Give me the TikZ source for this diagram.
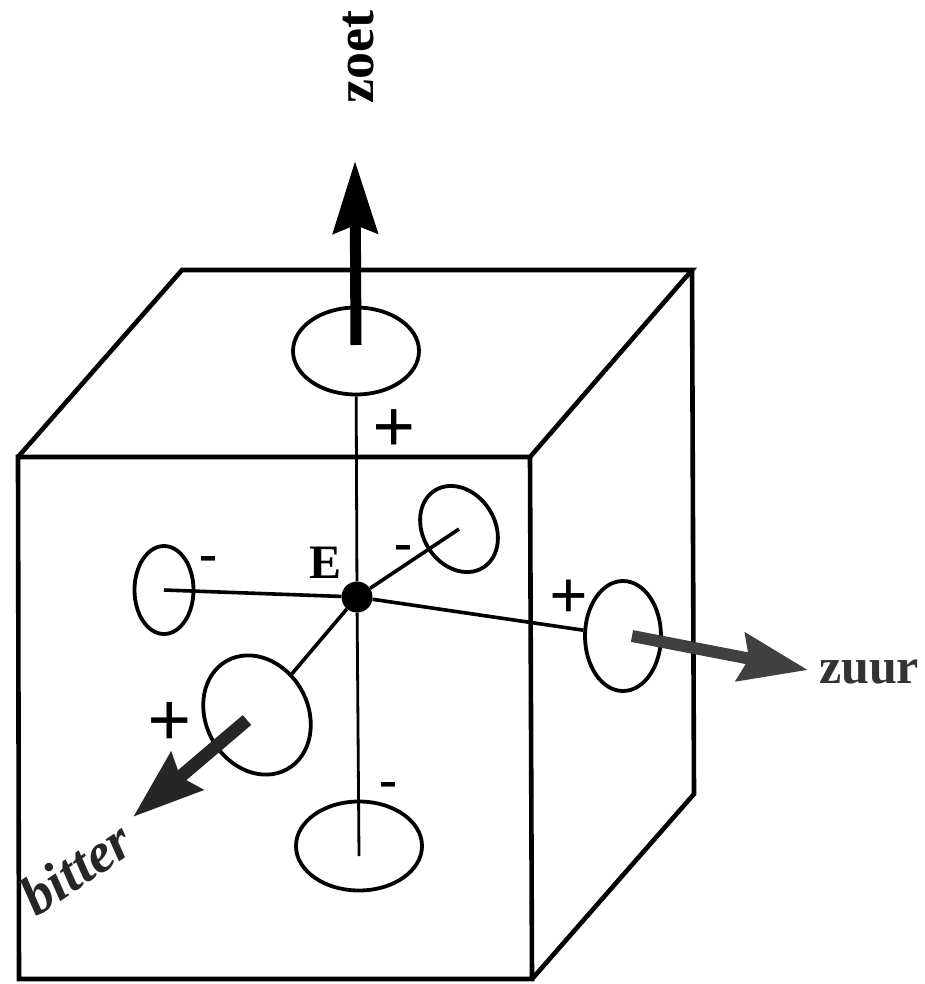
\documentclass[tikz,border=0pt]{standalone}
\usepackage{fontspec}
\setmainfont{Liberation Serif}
\usetikzlibrary{arrows.meta,shapes.geometric}
\begin{document}
\begin{tikzpicture}[x=1bp,y=-1bp,
  edge/.style={line width=4.6bp, line join=miter},
  axisline/.style={line width=3.6bp},
  vline/.style={line width=2.8bp},
  port/.style={draw, ellipse, line width=3.8bp, inner sep=0pt},
  sign/.style={inner sep=0pt, font=\fontsize{76bp}{76bp}\selectfont\bfseries},
  neg/.style={inner sep=0pt, font=\fontsize{54bp}{54bp}\selectfont\bfseries},
  lbl/.style={inner sep=0pt, font=\fontsize{50bp}{50bp}\selectfont\bfseries},
  zoetarrow/.style={line width=11bp, -{Stealth[length=72bp,width=44bp,inset=8bp]}},
  bitarrow/.style={line width=13bp, black!85, -{Stealth[length=70bp,width=48bp,inset=8bp]}},
  zuurarrow/.style={line width=12bp, black!75, -{Stealth[length=68bp,width=48bp,inset=8bp]}}
]
\useasboundingbox (0,0) rectangle (925,984);
% cube corners
\coordinate (FTL) at (18,457);
\coordinate (FTR) at (530,457);
\coordinate (FBR) at (532,979);
\coordinate (FBL) at (19,979);
\coordinate (BTL) at (182,270);
\coordinate (BTR) at (692,270);
\coordinate (BBR) at (694,794);
\draw[edge] (FTL) -- (FTR) -- (FBR) -- (FBL) -- cycle;
\draw[edge] (FTL) -- (BTL) -- (BTR) -- (FTR);
\draw[edge] (BTR) -- (BBR) -- (FBR);
% ports
\node[port, minimum width=126bp, minimum height=87bp] (topell) at (356,351) {};
\node[port, minimum width=59bp, minimum height=88bp] (leftell) at (164,590) {};
\node[port, minimum width=72bp, minimum height=91bp, rotate=32] (urell) at (459,529) {};
\node[port, minimum width=76bp, minimum height=110bp] (zuurell) at (623,636) {};
\node[port, minimum width=102bp, minimum height=124bp, rotate=29] (bitell) at (257,715) {};
\node[port, minimum width=126bp, minimum height=89bp] (botell) at (359,846) {};
% centre
\node[circle, fill, inner sep=0pt, minimum size=31bp] (E) at (357,597) {};
\node[lbl, font=\fontsize{48bp}{48bp}\selectfont\bfseries] (elabel) at (326,563) {E};
% axes
\draw[axisline] (E) -- (leftell.center);
\draw[axisline] (E) -- (zuurell);
\draw[axisline] (E) -- (urell.center);
\draw[axisline] (E) -- (bitell);
\draw[vline] (E) -- (topell);
\draw[vline] (E) -- ([yshift=-10bp]botell.center);
% arrows
\coordinate (zoettip) at (355,161);
\coordinate (bittip) at (133,817);
\coordinate (zuurtip) at (808,670);
\draw[zoetarrow] ([yshift=6bp]topell.center) -- (zoettip);
\draw[bitarrow] ([shift={(-10bp,-5bp)}]bitell.center) -- (bittip);
\draw[zuurarrow] ([xshift=9bp]zuurell.center) -- (zuurtip);
% labels
\node[lbl, rotate=90, font=\fontsize{54bp}{54bp}\selectfont\bfseries] (zoet) at (359,57) {zoet};
\node[lbl, text=black!80] (zuur) at (869,672) {zuur};
\node[lbl, rotate=34, text=black!85, font=\fontsize{56bp}{56bp}\selectfont\bfseries\itshape] (bitter) at (76,868) {bitter};
% signs
\node[sign] (p1) at (394,431) {+};
\node[sign, font=\fontsize{68bp}{68bp}\selectfont\bfseries] (p2) at (569,599) {+};
\node[sign, font=\fontsize{78bp}{78bp}\selectfont\bfseries] (p3) at (170,724) {+};
\node[neg] (m1) at (208,564) {-};
\node[neg] (m2) at (403,553) {-};
\node[neg] (m3) at (388,790) {-};
\end{tikzpicture}
\end{document}
